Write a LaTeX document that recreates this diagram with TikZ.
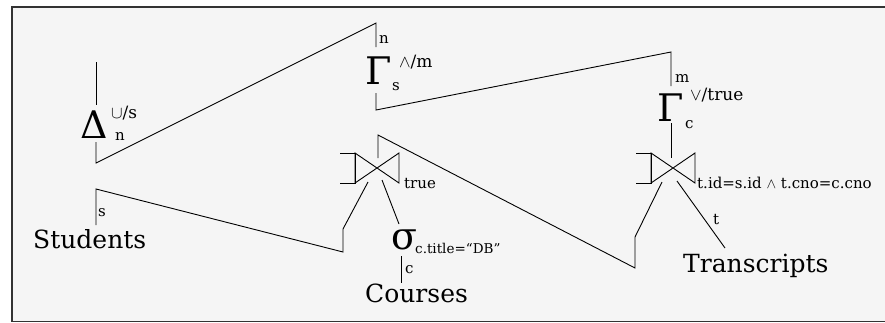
\documentclass[tikz,border=0pt]{standalone}
\usepackage{fontspec}
\setmainfont{DejaVu Serif}
\definecolor{bg}{HTML}{F5F5F5}
\definecolor{frame}{HTML}{333333}
\begin{document}
\begin{tikzpicture}[x=1pt,y=-1pt,
  edge/.style={line width=0.9pt, line join=miter},
  lbl/.style={inner sep=0pt, font=\fontsize{15}{18}\selectfont, anchor=base west},
  suplbl/.style={inner sep=0pt, font=\fontsize{17}{20}\selectfont, anchor=base west},
  rel/.style={inner sep=0pt, font=\fontsize{25}{30}\selectfont, anchor=base west},
  opsym/.style={inner sep=0pt, font=\fontsize{38}{44}\selectfont, anchor=base west},
  bowtie/.pic={
    \draw[edge] (-37,-15) -- (-22,-15) -- (-22,15) -- (-37,15);
    \draw[edge] (-22,-15) -- (22,15) -- (22,-15) -- (-22,15) -- cycle;
  }]
\useasboundingbox (0,0) rectangle (885,322);
\fill[bg] (12,7) rectangle (886,321.5);
\draw[frame, line width=1.4pt] (886,7) -- (12,7) -- (12,321.5) -- (886,321.5);

% ---- Delta (duplicate elimination) ----
\node[opsym] (delta) at (80,138) {Δ};
\node[suplbl] (deltasup) at (111,118) {\(\cup\)/s};
\node[lbl] (deltasub) at (115,140) {n};
\coordinate (dtop) at (96,62);
\coordinate (dtopend) at (96,105);
\coordinate (dbot) at (96,142);
\coordinate (dlow) at (96,163);

% ---- Gamma 1 ----
\node[opsym] (gam1) at (365,84) {Γ};
\node[suplbl] (gam1sup) at (399,67) {\(\wedge\)/m};
\node[lbl] (gam1sub) at (392,90) {s};
\node[lbl] (gam1n) at (379,43) {n};
\coordinate (g1top) at (376,23);
\coordinate (g1topend) at (376,47);
\coordinate (g1bot) at (376,93);
\coordinate (g1low) at (376,110);

% ---- Gamma 2 ----
\node[opsym] (gam2) at (657,121) {Γ};
\node[suplbl] (gam2sup) at (690,100) {\(\vee\)/true};
\node[lbl] (gam2sub) at (685,128) {c};
\node[lbl] (gam2m) at (675,82) {m};
\coordinate (g2top) at (671,52);
\coordinate (g2topend) at (671,86);
\coordinate (g2bot) at (671,123);
\coordinate (g2low) at (671,158);

% ---- Join 1 ----
\pic (join1) at (377,168) {bowtie};
\coordinate (j1top) at (378,135);
\coordinate (j1topend) at (378,158);
\coordinate (j1l) at (368,182);
\coordinate (j1r) at (382,180);
\node[lbl] (j1lab) at (404,188) {true};

% ---- Join 2 ----
\pic (join2) at (673,168) {bowtie};
\coordinate (j2l) at (662,182);
\coordinate (j2r) at (677,181);
\node[lbl] (j2lab) at (697,188) {t.id=s.id \(\wedge\) t.cno=c.cno};

% ---- Sigma ----
\node[opsym] (sigma) at (391,249) {σ};
\node[lbl, font=\fontsize{13.5}{16}\selectfont] (sigsub) at (415,253) {c.title=“DB”};
\coordinate (sigtop) at (399,224);
\coordinate (sigbot) at (401,256);
\coordinate (courtop) at (401,283);
\node[lbl] (cl) at (405,273) {c};

% ---- Relations ----
\node[rel] (students) at (33,248) {Students};
\node[rel] (courses) at (365,302) {Courses};
\node[rel] (transcripts) at (683,272) {Transcripts};
\coordinate (stutop) at (96,189);
\coordinate (stubot) at (96,225);
\node[lbl] (sl) at (98,216) {s};
\coordinate (trtop) at (725,248);
\node[lbl] (tl) at (713,224) {t};

% ---- kinks ----
\coordinate (k1a) at (343,229);
\coordinate (k1b) at (343,252);
\coordinate (k2a) at (635,237);
\coordinate (k2b) at (635,268);

% ---- connectors ----
\draw[edge] (dtop) -- (dtopend);
\draw[edge] (dbot) -- (dlow) -- (g1top) -- (g1topend);
\draw[edge] (g1bot) -- (g1low) -- (g2top) -- (g2topend);
\draw[edge] (g2bot) -- (g2low);
\draw[edge] (j2l) -- (k2a) -- (k2b) -- (j1top) -- (j1topend);
\draw[edge] (j2r) -- (trtop);
\draw[edge] (j1l) -- (k1a) -- (k1b) -- (stutop) -- (stubot);
\draw[edge] (j1r) -- (sigtop);
\draw[edge] (sigbot) -- (courtop);
\end{tikzpicture}
\end{document}
